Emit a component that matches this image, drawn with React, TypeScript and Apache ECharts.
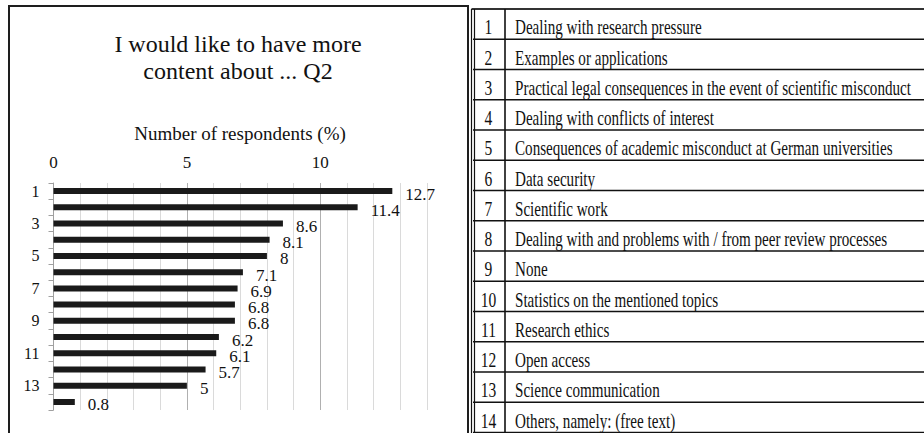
import React, { useEffect, useRef } from 'react';
import * as echarts from 'echarts';

const categories = ['1', '2', '3', '4', '5', '6', '7', '8', '9', '10', '11', '12', '13', '14'];
const values = [12.7, 11.4, 8.6, 8.1, 8, 7.1, 6.9, 6.8, 6.8, 6.2, 6.1, 5.7, 5, 0.8];
const xTickLabels = [0, 5, 10];
const titleLines = ['I would like to have more', 'content about ... Q2'];
const axisTitle = 'Number of respondents (%)';
const topics = [
  'Dealing with research pressure',
  'Examples or applications',
  'Practical legal consequences in the event of scientific misconduct',
  'Dealing with conflicts of interest',
  'Consequences of academic misconduct at German universities',
  'Data security',
  'Scientific work',
  'Dealing with and problems with / from peer review processes',
  'None',
  'Statistics on the mentioned topics',
  'Research ethics',
  'Open access',
  'Science communication',
  'Others, namely: (free text)',
];

const SERIF = 'Liberation Serif, Times New Roman, DejaVu Serif, serif';

export default function App() {
  const ref = useRef<HTMLDivElement>(null);

  useEffect(() => {
    document.body.style.margin = '0';
    if (!ref.current) return;
    const chart = echarts.init(ref.current, undefined, { renderer: 'svg' });

    const tableTop = 9;
    const rowH = 30.25;
    const tableLeft = 473;
    const colSep = 505;
    const tableRight = 930;

    const txt = (size: number) => ({ fontSize: size, fontFamily: SERIF, fill: '#111' });

    const graphics: any[] = [];
    graphics.push({
      type: 'rect',
      shape: { x: 9, y: 6, width: 459, height: 445 },
      style: { fill: 'none', stroke: '#1e1e1e', lineWidth: 2 },
    });
    titleLines.forEach((t, i) => {
      graphics.push({
        type: 'text',
        x: 238,
        y: 43.5 + i * 27,
        style: { text: t, ...txt(24), align: 'center', verticalAlign: 'middle' },
      });
    });
    graphics.push({
      type: 'text',
      x: 240,
      y: 133.5,
      style: { text: axisTitle, ...txt(19), align: 'center', verticalAlign: 'middle' },
    });

    graphics.push({
      type: 'line',
      shape: { x1: tableLeft - 1.5, y1: tableTop, x2: tableRight, y2: tableTop },
      style: { stroke: '#333', lineWidth: 2 },
    });
    for (let i = 1; i <= topics.length; i++) {
      const y = tableTop + i * rowH;
      graphics.push({
        type: 'line',
        shape: { x1: tableLeft, y1: y, x2: tableRight, y2: y },
        style: { stroke: '#111', lineWidth: 1.6 },
      });
    }
    [tableLeft - 1.5, tableLeft + 1.5].forEach((x) => {
      graphics.push({
        type: 'line',
        shape: { x1: x, y1: tableTop, x2: x, y2: 440 },
        style: { stroke: '#111', lineWidth: 1.2 },
      });
    });
    graphics.push({
      type: 'line',
      shape: { x1: colSep, y1: tableTop, x2: colSep, y2: 440 },
      style: { stroke: '#111', lineWidth: 1.6 },
    });
    topics.forEach((t, i) => {
      const yMid = tableTop + i * rowH + 18.5;
      graphics.push({
        type: 'text',
        x: 488.5,
        y: yMid,
        scaleX: 0.74,
        style: { text: categories[i], ...txt(21), align: 'center', verticalAlign: 'middle' },
      });
      graphics.push({
        type: 'text',
        x: 515,
        y: yMid,
        scaleX: 0.72,
        style: { text: t, ...txt(21), align: 'left', verticalAlign: 'middle' },
      });
    });

    chart.setOption({
      animation: false,
      backgroundColor: '#fff',
      textStyle: { fontFamily: SERIF },
      grid: { left: 53.5, right: 924 - 427, top: 183, bottom: 23, containLabel: false },
      xAxis: {
        type: 'value',
        position: 'top',
        min: 0,
        max: 14,
        interval: 1,
        axisLine: { show: false },
        axisTick: { show: false },
        axisLabel: {
          formatter: (v: number) => (xTickLabels.includes(v) ? String(v) : ''),
          margin: 12,
          fontSize: 17,
          fontFamily: SERIF,
          color: '#111',
        },
        splitLine: {
          show: true,
          lineStyle: { color: ['#b0b0b0', '#dadada', '#dadada', '#dadada', '#dadada'], width: 1 },
        },
      },
      yAxis: {
        type: 'category',
        data: categories,
        inverse: true,
        axisLine: { show: true, lineStyle: { color: '#a0a0a0', width: 1 } },
        axisTick: { show: true, interval: 0, length: 5, lineStyle: { color: '#a0a0a0' } },
        axisLabel: { interval: 1, margin: 14, fontSize: 16, fontFamily: SERIF, color: '#111' },
      },
      series: [
        {
          type: 'bar',
          data: values,
          barWidth: 6,
          itemStyle: { color: '#1a1a1a' },
          label: {
            show: true,
            position: 'right',
            distance: 13,
            offset: [0, 3],
            fontSize: 17,
            fontFamily: SERIF,
            color: '#111',
          },
        },
      ],
      graphic: graphics,
    });

    return () => chart.dispose();
  }, []);

  return <div ref={ref} style={{ width: 924, height: 433 }} />;
}
